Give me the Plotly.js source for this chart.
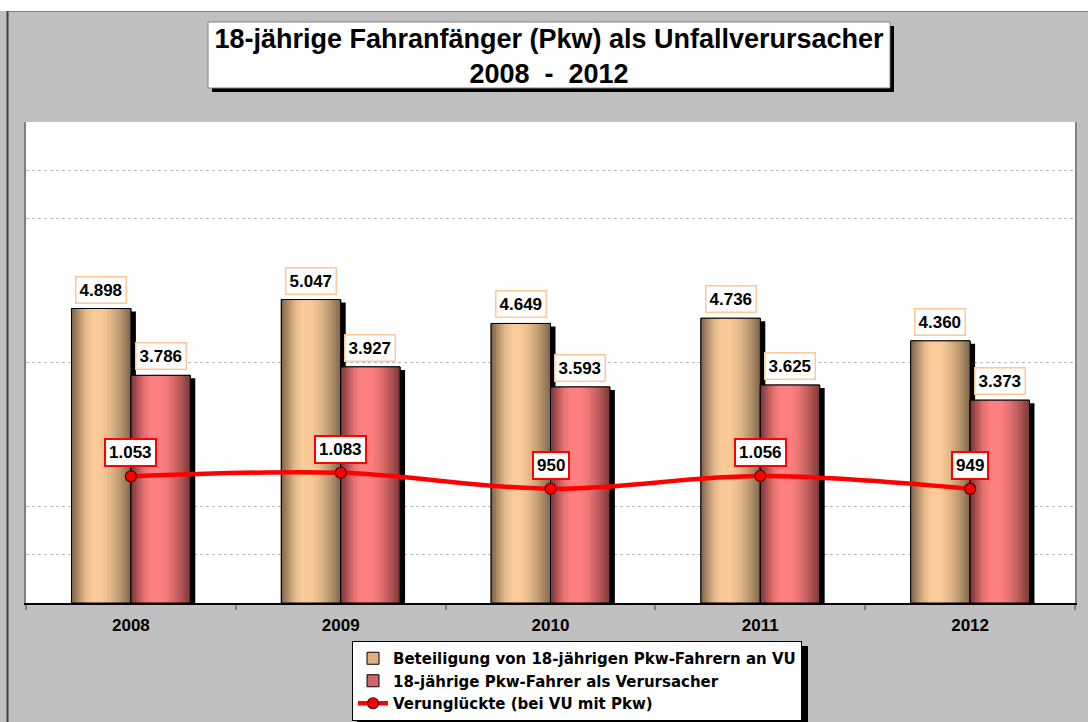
<!DOCTYPE html>
<html>
<head>
<meta charset="utf-8">
<script src="https://cdn.plot.ly/plotly-3.0.1.min.js"></script>
<style>html,body{margin:0;padding:0;background:#c0c0c0;}#chart{width:1088px;height:722px;}</style>
</head>
<body>
<div id="chart"></div>
<script>
// ---- data ----
const years = ['2008', '2009', '2010', '2011', '2012'];
const beteiligung = [4898, 5047, 4649, 4736, 4360];
const verursacher = [3786, 3927, 3593, 3625, 3373];
const verunglueckte = [1053, 1083, 950, 1056, 949];
const gridValues = [800, 1600, 4000, 6400, 7200];
const seriesNames = [
  'Beteiligung von 18-jährigen Pkw-Fahrern an VU',
  '18-jährige Pkw-Fahrer als Verursacher',
  'Verunglückte (bei VU mit Pkw)'
];
const titleText = '18-jährige Fahranfänger (Pkw) als Unfallverursacher<br>2008\u00A0\u00A0-\u00A0\u00A02012';

// ---- geometry helpers (pixel -> paper) ----
const L = 26, R = 1075, T = 122, B = 603, W = 1088, H = 722;
const xp = px => (px - L) / (R - L);
const yp = py => (B - py) / (B - T);

const FONT = 'Liberation Sans, Arial, Helvetica, sans-serif';
const BAR_W = 0.283;
const N = 24;
const PX_X = 1 / 210;     // category units per pixel
const PX_Y = 8000 / 481;  // value units per pixel

function fmt(v) { return String(v).replace(/\B(?=(\d{3})+(?!\d))/g, '.'); }

// cylinder shading profile
const profStops = [[0, 0.0], [0.08, 0.3], [0.22, 0.8], [0.34, 1], [0.5, 1], [0.64, 0.85], [0.8, 0.55], [0.93, 0.22], [1, 0.05]];
function profile(u) {
  for (let k = 1; k < profStops.length; k++) {
    if (u <= profStops[k][0]) {
      const a = profStops[k - 1], b = profStops[k];
      return a[1] + (b[1] - a[1]) * (u - a[0]) / (b[0] - a[0]);
    }
  }
  return profStops[profStops.length - 1][1];
}
function mix(d, l, t) {
  return 'rgb(' + d.map((c, i) => Math.round(c + (l[i] - c) * t)).join(',') + ')';
}

const traces = [];
function addCylinderSeries(values, offset, dark, light, mid, name, rank) {
  traces.push({
    type: 'bar', x: years, y: values.map(v => v - 3 * PX_Y),
    offset: offset + 5 * PX_X, width: BAR_W,
    marker: { color: '#000000', line: { width: 0 } },
    showlegend: false, hoverinfo: 'skip'
  });
  traces.push({
    type: 'bar', x: years, y: values, name: name, legendrank: rank,
    offset: offset, width: BAR_W,
    marker: { color: mid, line: { color: '#000000', width: 1 } },
    hoverinfo: 'skip'
  });
  const step = BAR_W / N;
  for (let i = 0; i < N; i++) {
    const off = offset + i * step;
    const wdt = Math.min(step * 1.8, offset + BAR_W - off);
    traces.push({
      type: 'bar', x: years, y: values,
      offset: off, width: wdt,
      marker: { color: mix(dark, light, profile((i + 0.5) / N)), line: { width: 0 } },
      showlegend: false, hoverinfo: 'skip'
    });
  }
  traces.push({
    type: 'bar', x: years, y: values,
    offset: offset, width: BAR_W,
    marker: { color: 'rgba(0,0,0,0)', line: { color: '#000000', width: 1 } },
    showlegend: false, hoverinfo: 'skip'
  });
}

addCylinderSeries(beteiligung, -BAR_W, [122, 98, 72], [250, 202, 152], '#e0b080', seriesNames[0], 1);
addCylinderSeries(verursacher, 0, [118, 52, 52], [255, 128, 128], '#d06868', seriesNames[1], 2);

traces.push({
  type: 'scatter', mode: 'lines+markers', x: years, y: verunglueckte, yaxis: 'y2',
  name: seriesNames[2], legendrank: 3,
  line: { color: '#ff0000', width: 4.5, shape: 'spline', smoothing: 1 },
  marker: { color: '#ff0000', size: 11, line: { color: '#500000', width: 1.2 } },
  hoverinfo: 'skip'
});

// ---- annotations (data labels) ----
const annotations = [];
const labFont = { family: FONT, size: 17, color: '#000', weight: 'bold' };
years.forEach((yr, i) => {
  annotations.push({
    x: i - BAR_W / 2, y: beteiligung[i], xref: 'x', yref: 'y',
    text: fmt(beteiligung[i]), showarrow: false, yanchor: 'bottom', yshift: 5,
    font: labFont, bgcolor: '#ffffff', bordercolor: '#fcc896', borderwidth: 1.5, borderpad: 3
  });
  annotations.push({
    x: i + BAR_W / 2, y: verursacher[i], xref: 'x', yref: 'y',
    text: fmt(verursacher[i]), showarrow: false, yanchor: 'bottom', yshift: 5,
    font: labFont, bgcolor: '#ffffff', bordercolor: '#fcc896', borderwidth: 1.5, borderpad: 3
  });
  annotations.push({
    x: i, y: verunglueckte[i], xref: 'x', yref: 'y2',
    text: fmt(verunglueckte[i]), showarrow: false, yanchor: 'bottom', yshift: 9,
    font: labFont, bgcolor: '#ffffff', bordercolor: '#ff0000', borderwidth: 2, borderpad: 3
  });
});

// ---- decorative shapes ----
const shapes = [
  { type: 'rect', xref: 'paper', yref: 'paper', x0: xp(0), x1: xp(W), y0: yp(11), y1: yp(0), fillcolor: '#ffffff', line: { width: 0 }, layer: 'below' },
  { type: 'line', xref: 'paper', yref: 'paper', x0: xp(7), x1: xp(W), y0: yp(11.5), y1: yp(11.5), line: { color: '#808080', width: 1 } },
  { type: 'line', xref: 'paper', yref: 'paper', x0: xp(7.5), x1: xp(7.5), y0: yp(11), y1: yp(H), line: { color: '#404040', width: 2 } },
  { type: 'rect', xref: 'paper', yref: 'paper', x0: xp(212), x1: xp(894), y0: yp(92), y1: yp(26), fillcolor: '#000000', line: { width: 0 } },
  { type: 'rect', xref: 'paper', yref: 'paper', x0: xp(208), x1: xp(890), y0: yp(88), y1: yp(22), fillcolor: '#ffffff', line: { color: '#808080', width: 1 } },
  { type: 'rect', xref: 'paper', yref: 'paper', x0: xp(357), x1: xp(808), y0: yp(722), y1: yp(646), fillcolor: '#000000', line: { width: 0 } }
];

const layout = {
  width: W, height: H,
  margin: { l: L, r: W - R, t: T, b: H - B, pad: 0, autoexpand: false },
  paper_bgcolor: '#c0c0c0',
  plot_bgcolor: '#ffffff',
  barmode: 'overlay',
  showlegend: true,
  title: {
    text: titleText,
    font: { family: 'Liberation Sans Narrow, Arial Narrow, ' + FONT, size: 27, color: '#000', weight: 'bold' },
    xref: 'paper', x: xp(549), xanchor: 'center',
    yref: 'container', y: 1 - 48 / H, yanchor: 'top',
    automargin: false
  },
  xaxis: {
    type: 'category', range: [-0.5, 4.5],
    tickson: 'boundaries', ticks: 'outside', ticklen: 5, tickwidth: 2, tickcolor: '#808080',
    showline: true, linecolor: '#000000', linewidth: 2,
    showgrid: false, zeroline: false, ticklabelstandoff: 6,
    tickfont: { family: FONT, size: 17, color: '#000', weight: 'bold' },
    fixedrange: true, automargin: false
  },
  yaxis: {
    range: [0, 8000], tickvals: gridValues, showticklabels: false, ticks: '',
    showgrid: true, gridcolor: '#b8b8b8', griddash: 'dot', gridwidth: 1,
    showline: true, linecolor: '#808080', linewidth: 2, mirror: true,
    zeroline: false, fixedrange: true, automargin: false
  },
  yaxis2: {
    range: [0, 4000], overlaying: 'y', side: 'right', visible: false, showgrid: false, fixedrange: true
  },
  legend: {
    x: xp(352), y: yp(641), xanchor: 'left', yanchor: 'top',
    bgcolor: '#ffffff', bordercolor: '#000000', borderwidth: 1,
    font: { family: 'DejaVu Sans, ' + FONT, size: 15, color: '#000', weight: 'bold' },
    tracegroupgap: 0, traceorder: 'normal'
  },
  annotations: annotations,
  shapes: shapes
};

Plotly.newPlot('chart', traces, layout, { displayModeBar: false, staticPlot: true });
</script>
</body>
</html>
